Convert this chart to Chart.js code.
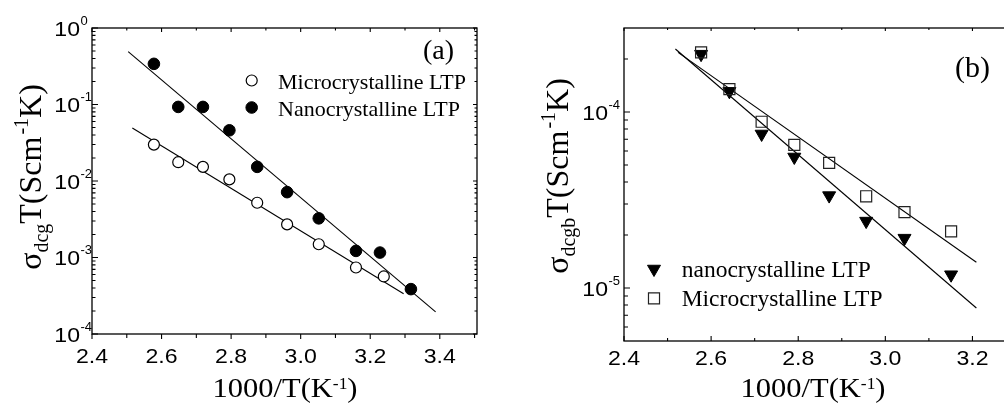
<!DOCTYPE html>
<html>
<head>
<meta charset="utf-8">
<script src="https://cdn.jsdelivr.net/npm/chart.js@4.4.0/dist/chart.umd.min.js"></script>
<style>
html,body{margin:0;padding:0;background:#fff;overflow:hidden;width:1004px;height:403px;}
#ca{position:absolute;left:0;top:0;}
#cb{position:absolute;left:500px;top:0;}
</style>
</head>
<body>
<canvas id="ca" width="500" height="403"></canvas>
<canvas id="cb" width="530" height="403"></canvas>
<script>
// ---------------- Panel (a) data ----------------
const nanoAx = [2.578, 2.648, 2.719, 2.795, 2.875, 2.961, 3.052, 3.159, 3.228, 3.317];
const nanoAy = [0.34, 0.093, 0.093, 0.046, 0.0153, 0.00715, 0.00325, 0.00122, 0.00116, 0.000386];
const microAx = [2.578, 2.648, 2.719, 2.795, 2.875, 2.961, 3.052, 3.159, 3.239];
const microAy = [0.0299, 0.0176, 0.0153, 0.0105, 0.0052, 0.00271, 0.00149, 0.00074, 0.000565];
const nanoFitAx = [2.504, 3.388];
const nanoFitAy = [0.491, 0.000195];
const microFitAx = [2.516, 3.296];
const microFitAy = [0.0493, 0.000335];
const xTicksA = [2.4, 2.6, 2.8, 3.0, 3.2, 3.4];
const xLabelsA = ['2.4', '2.6', '2.8', '3.0', '3.2', '3.4'];
const xMinorA = [2.5, 2.7, 2.9, 3.1, 3.3, 3.5];
const yExpA = [0, -1, -2, -3, -4];
const legendA = ['Microcrystalline LTP', 'Nanocrystalline LTP'];

// ---------------- Panel (b) data ----------------
const xB = [2.577, 2.642, 2.716, 2.791, 2.871, 2.956, 3.044, 3.151];
const nanoBy = [2.13e-4, 1.31e-4, 7.5e-5, 5.55e-5, 3.35e-5, 2.4e-5, 1.92e-5, 1.19e-5];
const microBy = [2.18e-4, 1.35e-4, 8.8e-5, 6.5e-5, 5.14e-5, 3.32e-5, 2.7e-5, 2.1e-5];
const nanoFitBx = [2.518, 3.209];
const nanoFitBy = [2.28e-4, 7.7e-6];
const microFitBx = [2.524, 3.209];
const microFitBy = [2.18e-4, 1.4e-5];
const xTicksB = [2.4, 2.6, 2.8, 3.0, 3.2];
const xLabelsB = ['2.4', '2.6', '2.8', '3.0', '3.2'];
const xMinorB = [2.5, 2.7, 2.9, 3.1, 3.3];
const yExpB = [-4, -5];
const legendB = ['nanocrystalline LTP', 'Microcrystalline LTP'];

const SERIF = '"Liberation Serif","Times New Roman",serif';
const SANS = '"Liberation Sans",Arial,sans-serif';

function pts(xs, ys) { return xs.map((x, i) => ({x: x, y: ys[i]})); }

function drawRuns(ctx, list, x, y, align, sx) {
  let total = 0;
  for (const r of list) {
    ctx.font = r.size + 'px ' + r.fam;
    r.w = ctx.measureText(r.t).width * sx;
    total += r.w + (r.gap || 0);
  }
  let cx = align === 'center' ? x - total / 2 : (align === 'right' ? x - total : x);
  for (const r of list) {
    ctx.save();
    ctx.font = r.size + 'px ' + r.fam;
    ctx.fillStyle = '#000';
    ctx.textAlign = 'left';
    ctx.textBaseline = 'alphabetic';
    ctx.translate(cx, y + (r.dy || 0));
    ctx.scale(sx, 1);
    ctx.fillText(r.t, 0, 0);
    ctx.restore();
    cx += r.w + (r.gap || 0);
  }
  return total;
}

function minorLogValues(min, max) {
  const out = [];
  for (let e = Math.floor(Math.log10(min)); e <= Math.ceil(Math.log10(max)); e++) {
    for (let m = 2; m <= 9; m++) {
      const v = m * Math.pow(10, e);
      if (v > min * 1.0001 && v < max * 0.9999) out.push(v);
    }
  }
  return out;
}

function makePlugin(spec) {
  return {
    id: 'frame_' + spec.id,
    beforeDatasetsDraw(chart) {
      const ctx = chart.ctx, a = chart.chartArea;
      const xs = chart.scales.x, ys = chart.scales.y;
      ctx.save();
      ctx.strokeStyle = '#000';
      ctx.lineWidth = 1.3;
      ctx.strokeRect(a.left, a.top, a.right - a.left, a.bottom - a.top);
      ctx.lineWidth = 1.1;
      ctx.beginPath();
      const T = spec.ticks;
      const hTick = (vals, len, side) => {
        for (const v of vals) {
          const px = xs.getPixelForValue(v);
          if (side === 'bottom') {
            const d = T.bottom.dir === 'out' ? 1 : -1;
            ctx.moveTo(px, a.bottom); ctx.lineTo(px, a.bottom + d * len);
          } else {
            ctx.moveTo(px, a.top); ctx.lineTo(px, a.top + len);
          }
        }
      };
      const vTick = (vals, len, side) => {
        for (const v of vals) {
          const py = ys.getPixelForValue(v);
          if (side === 'left') { ctx.moveTo(a.left, py); ctx.lineTo(a.left + len, py); }
          else { ctx.moveTo(a.right, py); ctx.lineTo(a.right - len, py); }
        }
      };
      hTick(spec.xTicks, T.bottom.major, 'bottom');
      hTick(spec.xMinor, T.bottom.minor, 'bottom');
      hTick(spec.xTicks, T.top.major, 'top');
      hTick(spec.xMinor, T.top.minor, 'top');
      const majors = spec.yExp.map(e => Math.pow(10, e));
      const minors = minorLogValues(spec.ymin, spec.ymax);
      vTick(majors, T.left.major, 'left');
      vTick(minors, T.left.minor, 'left');
      vTick(majors, T.right.major, 'right');
      vTick(minors, T.right.minor, 'right');
      ctx.stroke();
      ctx.restore();
    },
    afterDatasetsDraw(chart) {
      const ctx = chart.ctx, a = chart.chartArea;
      const xs = chart.scales.x, ys = chart.scales.y;
      ctx.save();
      // x tick labels
      spec.xTicks.forEach((v, i) => {
        drawRuns(ctx, [{t: spec.xLabels[i], size: spec.tickSize, fam: SANS}], xs.getPixelForValue(v), spec.xLabelBase, 'center', 1.1);
      });
      // y tick labels 10^n
      spec.yExp.forEach(e => {
        const py = ys.getPixelForValue(Math.pow(10, e));
        const base = py + spec.tickSize * 0.36;
        ctx.font = spec.tickSize + 'px ' + SANS;
        const w = ctx.measureText('10').width * 1.1;
        const xr = a.left - spec.yLabelGap;
        drawRuns(ctx, [{t: '10', size: spec.tickSize, fam: SANS}], xr - w, base, 'left', 1.1);
        drawRuns(ctx, [{t: String(e), size: spec.supSize, fam: SANS}], xr + 0.5, base - 11, 'left', 1.0);
      });
      // x title
      drawRuns(ctx, [
        {t: '1000/T(K', size: 28, fam: SERIF},
        {t: '-1', size: 16, fam: SERIF, dy: -8},
        {t: ')', size: 28, fam: SERIF}
      ], spec.xTitleX, spec.xTitleBase, 'center', 1.09);
      // y title rotated
      ctx.save();
      ctx.translate(spec.yTitleBase, spec.yTitleCenter);
      ctx.rotate(-Math.PI / 2);
      drawRuns(ctx, [
        {t: '\u03C3', size: 32, fam: SERIF},
        {t: spec.sub, size: 20, fam: SERIF, dy: 7},
        {t: 'T(Scm', size: 32, fam: SERIF, gap: 2},
        {t: '-1', size: 20, fam: SERIF, dy: -13},
        {t: 'K)', size: 32, fam: SERIF}
      ], 0, 0, 'center', 1.0);
      ctx.restore();
      // panel label
      drawRuns(ctx, [{t: spec.panel, size: spec.panelSize, fam: SERIF}], spec.panelX, spec.panelBase, 'left', 1.0);
      // legend
      spec.legend.forEach((L) => {
        ctx.save();
        ctx.fillStyle = L.style.backgroundColor;
        ctx.strokeStyle = L.style.borderColor;
        ctx.lineWidth = L.style.borderWidth;
        Chart.helpers.drawPoint(ctx, L.style, L.mx, L.my);
        ctx.restore();
        drawRuns(ctx, [{t: L.text, size: spec.legendSize, fam: SERIF}], L.tx, L.tb, 'left', 1.0);
      });
      ctx.restore();
    }
  };
}

const openCircle = {pointStyle: 'circle', radius: 5.5, rotation: 0, borderWidth: 1.2, borderColor: '#000', backgroundColor: '#fff'};
const fillCircle = {pointStyle: 'circle', radius: 5.8, rotation: 0, borderWidth: 1, borderColor: '#000', backgroundColor: '#000'};
const downTri = {pointStyle: 'triangle', radius: 7.5, rotation: 180, borderWidth: 1, borderColor: '#000', backgroundColor: '#000'};
const openSq = {pointStyle: 'rect', radius: 7.8, rotation: 0, borderWidth: 1.2, borderColor: '#222', backgroundColor: 'rgba(255,255,255,0)'};

function lineDs(xs, ys, order) {
  return {data: pts(xs, ys), showLine: true, borderColor: '#000', borderWidth: 1.1, pointRadius: 0, tension: 0, order: order, clip: false};
}
function ptDs(xs, ys, st, order) {
  return {data: pts(xs, ys), showLine: false, pointStyle: st.pointStyle, pointRadius: st.radius, pointRotation: st.rotation,
    pointBorderWidth: st.borderWidth, pointBorderColor: st.borderColor, pointBackgroundColor: st.backgroundColor,
    borderColor: st.borderColor, backgroundColor: st.backgroundColor, order: order};
}

function baseOptions(xmin, xmax, ymin, ymax, pad) {
  return {
    responsive: false, animation: false, events: [],
    layout: {padding: pad},
    plugins: {legend: {display: false}, tooltip: {enabled: false}},
    scales: {
      x: {type: 'linear', min: xmin, max: xmax, bounds: 'data', display: false},
      y: {type: 'logarithmic', min: ymin, max: ymax, bounds: 'data', display: false}
    }
  };
}

// ---------- chart (a) ----------
const specA = {
  id: 'a', xTicks: xTicksA, xLabels: xLabelsA, xMinor: xMinorA, yExp: yExpA, ymin: 1e-4, ymax: 1,
  ticks: {bottom: {major: 5, minor: 4, dir: 'out'}, top: {major: 4, minor: 2.5}, left: {major: 6, minor: 3.5}, right: {major: 4, minor: 2.5}},
  tickSize: 21, supSize: 13, xLabelBase: 363, yLabelGap: 12,
  xTitleX: 285, xTitleBase: 397, yTitleBase: 41, yTitleCenter: 177, sub: 'dcg',
  panel: '(a)', panelSize: 28, panelX: 423, panelBase: 59, legendSize: 22,
  legend: [
    {style: openCircle, mx: 251.7, my: 80.5, text: legendA[0], tx: 278, tb: 88.5},
    {style: fillCircle, mx: 251.7, my: 107.5, text: legendA[1], tx: 278, tb: 115.5}
  ]
};
new Chart(document.getElementById('ca'), {
  type: 'scatter',
  data: {datasets: [
    lineDs(nanoFitAx, nanoFitAy, 3),
    lineDs(microFitAx, microFitAy, 3),
    ptDs(microAx, microAy, openCircle, 1),
    ptDs(nanoAx, nanoAy, fillCircle, 0)
  ]},
  options: baseOptions(2.4, 3.507, 1e-4, 1, {left: 92, top: 28, right: 23, bottom: 69}),
  plugins: [makePlugin(specA)]
});

// ---------- chart (b) ----------
const specB = {
  id: 'b', xTicks: xTicksB, xLabels: xLabelsB, xMinor: xMinorB, yExp: yExpB, ymin: 5e-6, ymax: 3e-4,
  ticks: {bottom: {major: 5, minor: 3, dir: 'in'}, top: {major: 3, minor: 2}, left: {major: 6, minor: 4}, right: {major: 6, minor: 4}},
  tickSize: 21, supSize: 13, xLabelBase: 365, yLabelGap: 16,
  xTitleX: 313, xTitleBase: 397, yTitleBase: 68, yTitleCenter: 176, sub: 'dcgb',
  panel: '(b)', panelSize: 30, panelX: 455, panelBase: 77, legendSize: 23.5,
  legend: [
    {style: downTri, mx: 154, my: 269, text: legendB[0], tx: 181.7, tb: 277.3},
    {style: openSq, mx: 154, my: 298.3, text: legendB[1], tx: 181.7, tb: 306}
  ]
};
new Chart(document.getElementById('cb'), {
  type: 'scatter',
  data: {datasets: [
    lineDs(nanoFitBx, nanoFitBy, 3),
    lineDs(microFitBx, microFitBy, 3),
    ptDs(xB, nanoBy, downTri, 1),
    ptDs(xB, microBy, openSq, 0)
  ]},
  options: baseOptions(2.4, 3.3, 5e-6, 3e-4, {left: 124, top: 28, right: 14, bottom: 62}),
  plugins: [makePlugin(specB)]
});
</script>
</body>
</html>
